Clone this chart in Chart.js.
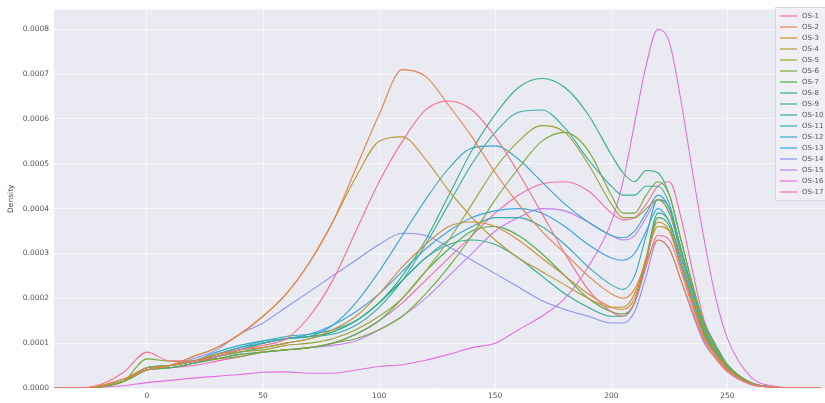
<!DOCTYPE html>
<html>
<head>
<meta charset="utf-8">
<script src="https://cdn.jsdelivr.net/npm/chart.js@4.4.0/dist/chart.umd.min.js"></script>
<style>
  html, body { margin: 0; padding: 0; background: #fff; }
</style>
</head>
<body>
<canvas id="myChart" width="825" height="403"></canvas>
<script>
const xs = [-40, -30, -20, -10, 0, 10, 20, 30, 40, 50, 60, 70, 80, 90, 100, 110, 120, 130, 140, 150,
            160, 170, 180, 190, 200, 205, 210, 215, 220, 225, 230, 235, 240, 245, 250, 260, 270, 280, 290];

const xTicks = [0, 50, 100, 150, 200, 250];
const yTicks = [0, 0.0001, 0.0002, 0.0003, 0.0004, 0.0005, 0.0006, 0.0007, 0.0008];

const names = ['OS-1', 'OS-2', 'OS-3', 'OS-4', 'OS-5', 'OS-6', 'OS-7', 'OS-8', 'OS-9',
               'OS-10', 'OS-11', 'OS-12', 'OS-13', 'OS-14', 'OS-15', 'OS-16', 'OS-17'];

// density values, one array per series
const os1  = [0,0,0.08e-4,0.35e-4,0.8e-4, 0.6e-4,0.6e-4,0.7e-4,0.85e-4,0.95e-4, 1.1e-4,1.6e-4,2.4e-4,3.5e-4,4.6e-4, 5.5e-4,6.2e-4,6.4e-4,6.2e-4,5.6e-4, 4.8e-4,3.9e-4,3.0e-4,2.2e-4,1.7e-4, 1.6e-4,1.9e-4,2.7e-4,3.4e-4,3.3e-4, 2.6e-4,1.8e-4,1.1e-4,0.7e-4,0.4e-4, 0.09e-4,0.02e-4,0,0];
const os2  = [0,0,0.05e-4,0.2e-4,0.4e-4, 0.5e-4,0.7e-4,0.9e-4,1.2e-4,1.6e-4, 2.1e-4,2.8e-4,3.7e-4,4.9e-4,6.1e-4, 7.1e-4,6.95e-4,6.3e-4,5.6e-4,4.8e-4, 4.1e-4,3.5e-4,3.0e-4,2.5e-4,2.1e-4, 2.0e-4,2.2e-4,2.8e-4,3.3e-4,3.1e-4, 2.4e-4,1.7e-4,1.05e-4,0.65e-4,0.37e-4, 0.08e-4,0.02e-4,0,0];
const os3  = [0,0,0.05e-4,0.2e-4,0.45e-4, 0.5e-4,0.6e-4,0.75e-4,0.85e-4,0.9e-4, 1.0e-4,1.1e-4,1.3e-4,1.6e-4,2.1e-4, 2.7e-4,3.2e-4,3.6e-4,3.7e-4,3.6e-4, 3.3e-4,2.9e-4,2.5e-4,2.1e-4,1.8e-4, 1.75e-4,2.0e-4,2.9e-4,3.7e-4,3.5e-4, 2.7e-4,1.9e-4,1.15e-4,0.74e-4,0.41e-4, 0.09e-4,0.02e-4,0,0];
const os4  = [0,0,0.05e-4,0.2e-4,0.4e-4, 0.5e-4,0.7e-4,0.9e-4,1.2e-4,1.6e-4, 2.1e-4,2.8e-4,3.7e-4,4.7e-4,5.5e-4, 5.6e-4,5.1e-4,4.4e-4,3.8e-4,3.3e-4, 2.9e-4,2.6e-4,2.3e-4,2.0e-4,1.8e-4, 1.8e-4,2.1e-4,2.9e-4,3.6e-4,3.5e-4, 2.7e-4,1.9e-4,1.15e-4,0.74e-4,0.41e-4, 0.09e-4,0.02e-4,0,0];
const os5  = [0,0,0.03e-4,0.15e-4,0.4e-4, 0.5e-4,0.6e-4,0.7e-4,0.8e-4,0.85e-4, 0.95e-4,1.0e-4,1.1e-4,1.3e-4,1.6e-4, 2.0e-4,2.6e-4,3.3e-4,4.1e-4,4.9e-4, 5.5e-4,5.85e-4,5.7e-4,5.0e-4,4.1e-4, 3.8e-4,3.8e-4,4.0e-4,4.2e-4,3.9e-4, 3.0e-4,2.1e-4,1.3e-4,0.84e-4,0.46e-4, 0.1e-4,0.02e-4,0,0];
const os6  = [0,0,0.03e-4,0.15e-4,0.65e-4, 0.6e-4,0.6e-4,0.65e-4,0.7e-4,0.8e-4, 0.85e-4,0.9e-4,1.0e-4,1.1e-4,1.3e-4, 1.6e-4,2.1e-4,2.7e-4,3.4e-4,4.2e-4, 4.9e-4,5.5e-4,5.7e-4,5.3e-4,4.3e-4, 3.9e-4,3.9e-4,4.3e-4,4.6e-4,4.3e-4, 3.3e-4,2.3e-4,1.4e-4,0.92e-4,0.5e-4, 0.11e-4,0.02e-4,0,0];
const os7  = [0,0,0.03e-4,0.15e-4,0.4e-4, 0.45e-4,0.55e-4,0.65e-4,0.75e-4,0.8e-4, 0.85e-4,0.9e-4,1.0e-4,1.2e-4,1.5e-4, 2.0e-4,2.6e-4,3.1e-4,3.5e-4,3.6e-4, 3.4e-4,3.0e-4,2.5e-4,2.0e-4,1.7e-4, 1.65e-4,1.9e-4,2.8e-4,3.8e-4,3.6e-4, 2.7e-4,1.9e-4,1.2e-4,0.76e-4,0.42e-4, 0.1e-4,0.02e-4,0,0];
const os8  = [0,0,0.03e-4,0.15e-4,0.45e-4, 0.5e-4,0.6e-4,0.7e-4,0.8e-4,0.9e-4, 1.0e-4,1.1e-4,1.25e-4,1.5e-4,1.9e-4, 2.5e-4,3.3e-4,4.3e-4,5.3e-4,6.1e-4, 6.7e-4,6.9e-4,6.7e-4,6.1e-4,5.2e-4, 4.8e-4,4.6e-4,4.85e-4,4.8e-4,4.3e-4, 3.3e-4,2.3e-4,1.45e-4,0.95e-4,0.52e-4, 0.12e-4,0.02e-4,0,0];
const os9  = [0,0,0.03e-4,0.15e-4,0.4e-4, 0.45e-4,0.55e-4,0.7e-4,0.85e-4,1.0e-4, 1.1e-4,1.15e-4,1.25e-4,1.5e-4,1.9e-4, 2.4e-4,2.9e-4,3.2e-4,3.3e-4,3.2e-4, 2.9e-4,2.5e-4,2.1e-4,1.8e-4,1.6e-4, 1.6e-4,1.9e-4,2.9e-4,3.9e-4,3.7e-4, 2.8e-4,1.95e-4,1.2e-4,0.78e-4,0.43e-4, 0.1e-4,0.02e-4,0,0];
const os10 = [0,0,0.03e-4,0.15e-4,0.45e-4, 0.5e-4,0.6e-4,0.7e-4,0.85e-4,1.0e-4, 1.1e-4,1.15e-4,1.2e-4,1.4e-4,1.8e-4, 2.4e-4,3.2e-4,4.1e-4,5.0e-4,5.7e-4, 6.15e-4,6.2e-4,5.8e-4,5.1e-4,4.5e-4, 4.3e-4,4.3e-4,4.5e-4,4.5e-4,4.1e-4, 3.1e-4,2.2e-4,1.35e-4,0.88e-4,0.48e-4, 0.11e-4,0.02e-4,0,0];
const os11 = [0,0,0.03e-4,0.15e-4,0.45e-4, 0.5e-4,0.6e-4,0.75e-4,0.9e-4,1.05e-4, 1.15e-4,1.2e-4,1.3e-4,1.5e-4,1.9e-4, 2.4e-4,2.9e-4,3.3e-4,3.6e-4,3.8e-4, 3.8e-4,3.6e-4,3.2e-4,2.7e-4,2.3e-4, 2.2e-4,2.5e-4,3.4e-4,4.2e-4,4.0e-4, 3.0e-4,2.1e-4,1.3e-4,0.84e-4,0.46e-4, 0.1e-4,0.02e-4,0,0];
const os12 = [0,0,0.03e-4,0.15e-4,0.4e-4, 0.5e-4,0.6e-4,0.8e-4,0.95e-4,1.05e-4, 1.1e-4,1.15e-4,1.4e-4,1.9e-4,2.6e-4, 3.4e-4,4.2e-4,4.9e-4,5.35e-4,5.4e-4, 5.1e-4,4.6e-4,4.1e-4,3.7e-4,3.4e-4, 3.35e-4,3.5e-4,3.9e-4,4.3e-4,4.0e-4, 3.1e-4,2.15e-4,1.3e-4,0.86e-4,0.47e-4, 0.11e-4,0.02e-4,0,0];
const os13 = [0,0,0.03e-4,0.15e-4,0.4e-4, 0.5e-4,0.6e-4,0.75e-4,0.9e-4,1.0e-4, 1.1e-4,1.2e-4,1.4e-4,1.7e-4,2.1e-4, 2.6e-4,3.1e-4,3.5e-4,3.8e-4,3.95e-4, 4.0e-4,3.9e-4,3.6e-4,3.2e-4,2.9e-4, 2.85e-4,3.0e-4,3.5e-4,4.0e-4,3.7e-4, 2.9e-4,2.0e-4,1.25e-4,0.8e-4,0.44e-4, 0.1e-4,0.02e-4,0,0];
const os14 = [0,0,0.03e-4,0.15e-4,0.4e-4, 0.5e-4,0.65e-4,0.85e-4,1.2e-4,1.45e-4, 1.8e-4,2.15e-4,2.5e-4,2.85e-4,3.2e-4, 3.45e-4,3.4e-4,3.15e-4,2.85e-4,2.55e-4, 2.25e-4,1.95e-4,1.75e-4,1.6e-4,1.45e-4, 1.45e-4,1.7e-4,2.5e-4,3.3e-4,3.1e-4, 2.4e-4,1.65e-4,1.0e-4,0.66e-4,0.36e-4, 0.08e-4,0.02e-4,0,0];
const os15 = [0,0,0.03e-4,0.15e-4,0.4e-4, 0.45e-4,0.55e-4,0.65e-4,0.75e-4,0.8e-4, 0.85e-4,0.9e-4,0.95e-4,1.05e-4,1.3e-4, 1.6e-4,2.0e-4,2.5e-4,3.0e-4,3.5e-4, 3.8e-4,4.0e-4,3.95e-4,3.7e-4,3.4e-4, 3.3e-4,3.4e-4,3.8e-4,4.2e-4,3.9e-4, 3.0e-4,2.1e-4,1.3e-4,0.84e-4,0.46e-4, 0.1e-4,0.02e-4,0,0];
const os16 = [0,0,0.02e-4,0.05e-4,0.12e-4, 0.17e-4,0.22e-4,0.26e-4,0.3e-4,0.35e-4, 0.36e-4,0.33e-4,0.33e-4,0.4e-4,0.48e-4, 0.52e-4,0.62e-4,0.75e-4,0.9e-4,1.0e-4, 1.3e-4,1.6e-4,2.0e-4,2.7e-4,3.7e-4, 4.6e-4,5.9e-4,7.2e-4,8.0e-4,7.7e-4, 6.4e-4,4.8e-4,3.3e-4,2.0e-4,1.1e-4, 0.25e-4,0.04e-4,0,0];
const os17 = [0,0,0.03e-4,0.15e-4,0.4e-4, 0.45e-4,0.5e-4,0.6e-4,0.7e-4,0.8e-4, 0.85e-4,0.9e-4,1.0e-4,1.2e-4,1.5e-4, 1.9e-4,2.4e-4,2.9e-4,3.4e-4,3.9e-4, 4.3e-4,4.55e-4,4.6e-4,4.4e-4,3.9e-4, 3.75e-4,3.8e-4,4.1e-4,4.5e-4,4.6e-4, 3.8e-4,2.6e-4,1.5e-4,0.95e-4,0.52e-4, 0.12e-4,0.02e-4,0,0];

const series = [os1, os2, os3, os4, os5, os6, os7, os8, os9, os10, os11, os12, os13, os14, os15, os16, os17];

// husl-like palette, 17 hues
const colors = ['#f77189', '#e98149', '#d58b32', '#bb9731', '#9aa331', '#7aaa31', '#45b14a', '#33b07d',
                '#34ae93', '#36ada4', '#37abb3', '#39a8c6', '#3ba3ec', '#8c90f4', '#c37ff4', '#e46fe0', '#f66bb0'];

Chart.defaults.font.family = "'DejaVu Sans', sans-serif";

// grey seaborn-style plot background
const plotBg = {
  id: 'plotBg',
  beforeDraw(chart) {
    const {ctx, chartArea: a} = chart;
    ctx.save();
    ctx.fillStyle = '#eaeaf2';
    ctx.fillRect(a.left, a.top, a.right - a.left, a.bottom - a.top);
    ctx.restore();
  }
};

// legend drawn inside the plot, top right
const innerLegend = {
  id: 'innerLegend',
  afterDraw(chart) {
    const ctx = chart.ctx;
    const left = 775, top = 7, rowH = 11;
    ctx.save();
    ctx.fillStyle = 'rgba(240,240,246,0.85)';
    ctx.strokeStyle = '#d8d8e0';
    ctx.lineWidth = 1;
    ctx.fillRect(left + 0.5, top + 0.5, 60, rowH * names.length + 6);
    ctx.strokeRect(left + 0.5, top + 0.5, 60, rowH * names.length + 6);
    ctx.font = "7px 'DejaVu Sans', sans-serif";
    ctx.textBaseline = 'middle';
    chart.data.datasets.forEach((ds, i) => {
      const y = top + 9 + i * rowH;
      ctx.strokeStyle = ds.borderColor;
      ctx.lineWidth = 1.2;
      ctx.beginPath();
      ctx.moveTo(left + 5, y);
      ctx.lineTo(left + 22, y);
      ctx.stroke();
      ctx.fillStyle = '#555';
      ctx.fillText(ds.label, left + 27, y);
    });
    ctx.restore();
  }
};

const ctx = document.getElementById('myChart');

const myChart = new Chart(ctx, {
  type: 'line',
  data: {
    datasets: series.map((arr, i) => ({
      label: names[i],
      data: xs.map((x, j) => ({x: x, y: arr[j]})),
      borderColor: colors[i],
      borderWidth: 1.1,
      pointRadius: 0,
      fill: false,
      cubicInterpolationMode: 'monotone'
    }))
  },
  options: {
    responsive: false,
    animation: false,
    devicePixelRatio: 1,
    layout: { padding: { top: 9, right: 0, left: 0, bottom: 0 } },
    plugins: { legend: { display: false }, tooltip: { enabled: false } },
    scales: {
      x: {
        type: 'linear',
        min: -40,
        max: 292,
        afterBuildTicks: (s) => { s.ticks = xTicks.map(v => ({value: v})); },
        afterFit: (s) => { s.height = 15; },
        grid: { color: '#f7f7fa', lineWidth: 1, drawTicks: false },
        border: { display: false },
        ticks: { color: '#555', font: { size: 7.5 }, padding: 4, maxRotation: 0 }
      },
      y: {
        min: 0,
        max: 0.000844,
        afterBuildTicks: (s) => { s.ticks = yTicks.map(v => ({value: v})); },
        afterFit: (s) => { s.width = 54; },
        grid: { color: '#f7f7fa', lineWidth: 1, drawTicks: false },
        border: { display: false },
        title: { display: true, text: 'Density', color: '#444', font: { size: 7.5 }, padding: { top: 7, bottom: 2 } },
        ticks: { color: '#555', font: { size: 7.5 }, padding: 5, callback: (v) => v.toFixed(4) }
      }
    }
  },
  plugins: [plotBg, innerLegend]
});
</script>
</body>
</html>
